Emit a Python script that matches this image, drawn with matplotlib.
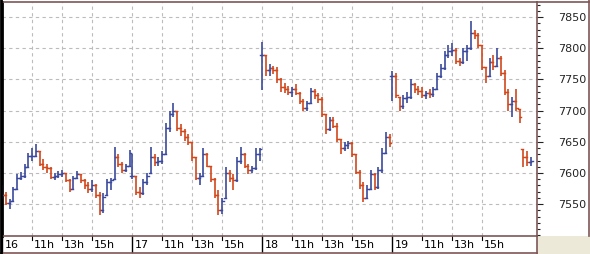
import matplotlib
matplotlib.use("Agg")
import matplotlib.pyplot as plt
from matplotlib.lines import Line2D
from matplotlib.patches import Rectangle
import matplotlib.transforms as mtransforms

# ---- data (15-minute bars) ----
day_labels = ["16", "17", "18", "19"]
hour_labels = ["11h", "13h", "15h"]
hour_values = [11, 13, 15]

highs_16 = [7580, 7570, 7558, 7578, 7598, 7602, 7615, 7632, 7640, 7646, 7635, 7622, 7615, 7610, 7600, 7603, 7605, 7600,
            7590, 7595, 7603, 7598, 7590, 7585, 7588, 7582, 7570, 7568, 7590, 7592, 7641, 7630, 7618, 7615, 7637]
lows_16 = [7558, 7548, 7543, 7555, 7575, 7588, 7592, 7608, 7620, 7625, 7612, 7605, 7600, 7590, 7588, 7592, 7594, 7585,
           7570, 7575, 7590, 7584, 7575, 7568, 7570, 7560, 7532, 7536, 7565, 7572, 7590, 7610, 7600, 7602, 7610]
closes_16 = [7565, 7552, 7555, 7575, 7592, 7596, 7610, 7628, 7628, 7635, 7615, 7610, 7608, 7593, 7596, 7598, 7600, 7588,
             7575, 7592, 7598, 7588, 7580, 7574, 7580, 7565, 7540, 7562, 7585, 7588, 7625, 7615, 7605, 7612, 7632]

highs_17 = [7630, 7595, 7578, 7590, 7600, 7641, 7630, 7625, 7635, 7680, 7700, 7712, 7700, 7678, 7670, 7662, 7650, 7625,
            7600, 7640, 7632, 7612, 7592, 7572, 7560, 7610, 7605, 7598, 7625, 7641, 7632, 7615, 7612, 7640, 7640]
lows_17 = [7590, 7565, 7560, 7565, 7580, 7600, 7612, 7612, 7615, 7630, 7665, 7690, 7668, 7660, 7652, 7645, 7620, 7588,
           7580, 7595, 7610, 7585, 7560, 7532, 7535, 7560, 7585, 7572, 7585, 7615, 7608, 7598, 7600, 7605, 7620]
closes_17 = [7595, 7570, 7568, 7585, 7595, 7625, 7618, 7620, 7630, 7672, 7695, 7700, 7672, 7668, 7658, 7650, 7625, 7592,
             7595, 7630, 7612, 7590, 7565, 7540, 7555, 7600, 7592, 7588, 7620, 7630, 7612, 7605, 7608, 7630, 7638]

highs_18 = [7810, 7790, 7775, 7772, 7770, 7752, 7745, 7740, 7738, 7742, 7730, 7718, 7715, 7737, 7735, 7728, 7722, 7695,
            7690, 7690, 7680, 7655, 7650, 7652, 7650, 7630, 7605, 7585, 7580, 7605, 7600, 7610, 7640, 7665, 7662]
lows_18 = [7733, 7755, 7755, 7758, 7745, 7730, 7728, 7725, 7722, 7725, 7710, 7700, 7700, 7710, 7718, 7712, 7690, 7663,
           7668, 7672, 7650, 7630, 7635, 7638, 7625, 7598, 7575, 7553, 7558, 7572, 7572, 7575, 7600, 7630, 7642]
closes_18 = [7790, 7765, 7768, 7765, 7750, 7738, 7735, 7730, 7735, 7728, 7715, 7705, 7712, 7732, 7725, 7718, 7695, 7670,
             7685, 7676, 7655, 7640, 7645, 7648, 7630, 7602, 7580, 7560, 7575, 7598, 7578, 7605, 7632, 7658, 7648]

highs_19 = [7763, 7760, 7722, 7725, 7730, 7750, 7745, 7740, 7738, 7732, 7735, 7738, 7760, 7775, 7795, 7805, 7808, 7800,
            7785, 7800, 7805, 7843, 7830, 7825, 7805, 7770, 7785, 7790, 7800, 7788, 7765, 7735, 7722, 7735, 7702,
            7638, 7635, 7625]
lows_19 = [7715, 7720, 7700, 7703, 7712, 7718, 7728, 7725, 7720, 7718, 7720, 7722, 7735, 7752, 7765, 7785, 7788, 7775,
           7772, 7775, 7780, 7798, 7815, 7800, 7765, 7745, 7755, 7765, 7770, 7755, 7725, 7700, 7690, 7700, 7680,
           7610, 7612, 7612]
closes_19 = [7755, 7725, 7708, 7720, 7722, 7742, 7735, 7732, 7725, 7728, 7726, 7735, 7755, 7768, 7790, 7795, 7798, 7780,
             7778, 7795, 7800, 7825, 7822, 7805, 7770, 7755, 7778, 7772, 7785, 7760, 7730, 7710, 7715, 7705, 7690,
             7625, 7618, 7620]

days_high = [highs_16, highs_17, highs_18, highs_19]
days_low = [lows_16, lows_17, lows_18, lows_19]
days_close = [closes_16, closes_17, closes_18, closes_19]

y_ticks = [7550, 7600, 7650, 7700, 7750, 7800, 7850]

# ---- layout ----
W, H = 590, 254
DAY_MIN = 520          # minutes per day slot on the axis
BAR_MIN = 15
BORDER = "#7d5656"
BLUE = "#3b4a9c"
RED = "#d2481c"
GRID = "#bcbcbc"

fig = plt.figure(figsize=(W / 100, H / 100), dpi=100, facecolor="white")
ax = fig.add_axes([2 / W, 18 / H, 535 / W, 234.5 / H])
ax.set_facecolor("white")
ax.set_xlim(0, 2140)
ax.set_ylim(7499, 7875)

# grid
for y in y_ticks:
    ax.axhline(y, color=GRID, lw=0.8, ls=(0, (3, 3)), zorder=1)
for d in range(4):
    for h in [9] + hour_values:
        x = d * DAY_MIN + (h - 9) * 60
        ax.axvline(x, color=GRID, lw=0.8, ls=(0, (3, 3)), zorder=1)

# OHLC bars
px = 2140 / 535.0  # minutes per pixel
for d in range(4):
    hs, ls_, cs = days_high[d], days_low[d], days_close[d]
    prev = cs[0]
    for i in range(len(hs)):
        x = d * DAY_MIN + i * BAR_MIN
        o = min(max(prev, ls_[i]), hs[i])
        c = cs[i]
        col = BLUE if c >= o else RED
        ax.plot([x, x], [ls_[i], hs[i]], color=col, lw=1.2, solid_capstyle="butt", zorder=3)
        ax.plot([x - 1.8 * px, x], [o, o], color=col, lw=1.0, zorder=3)
        ax.plot([x, x + 1.8 * px], [c, c], color=col, lw=1.0, zorder=3)
        prev = c

# y axis on the right
ax.yaxis.tick_right()
ax.set_yticks(y_ticks)
ax.set_yticks(range(7500, 7871, 10), minor=True)
ax.tick_params(axis="y", which="major", length=4.5, width=0.8, color="#222222", pad=11,
               labelsize=8, labelcolor="#222222")
ax.tick_params(axis="y", which="minor", length=2.2, width=0.8, color="#222222")

# x axis: day separators and hour ticks, labels drawn as text
ax.set_xticks([])
trans = mtransforms.blended_transform_factory(ax.transData, ax.transAxes)
ah = 234.5
for d in range(4):
    x0 = d * DAY_MIN
    ax.add_line(Line2D([x0, x0], [0, -16 / ah], transform=trans, color="black", lw=1.0, clip_on=False))
    ax.text(x0, -9 / ah, day_labels[d], transform=trans + mtransforms.ScaledTranslation(3 / 100, 0, fig.dpi_scale_trans),
            ha="left", va="center", fontsize=8, color="black")
    for h, lab in zip(hour_values, hour_labels):
        x = x0 + (h - 9) * 60
        ax.add_line(Line2D([x, x], [0, -4 / ah], transform=trans, color="black", lw=0.8, clip_on=False))
        ax.text(x, -9 / ah, lab, transform=trans + mtransforms.ScaledTranslation(2 / 100, 0, fig.dpi_scale_trans),
                ha="left", va="center", fontsize=8, color="black")

for s in ax.spines.values():
    s.set_color(BORDER)
    s.set_linewidth(1.2)
ax.spines["left"].set_color("black")
ax.spines["left"].set_linewidth(2)

# figure-level frame pieces
fig.add_artist(Rectangle((537 / W, 0), 53 / W, 18 / H, transform=fig.transFigure, facecolor="#ece9d8",
                         edgecolor="none", zorder=0))
fig.add_artist(Line2D([0, 537 / W], [1.5 / H, 1.5 / H], transform=fig.transFigure, color=BORDER, lw=1.2))
fig.add_artist(Line2D([537 / W, 537 / W], [0, 18 / H], transform=fig.transFigure, color=BORDER, lw=1.2))
fig.add_artist(Line2D([1 / W, 1 / W], [0, 1], transform=fig.transFigure, color="black", lw=2))
fig.add_artist(Line2D([588.5 / W, 588.5 / W], [18 / H, 1], transform=fig.transFigure, color=BORDER, lw=1.2))
fig.add_artist(Line2D([537 / W, 589 / W], [1 - 1.5 / H, 1 - 1.5 / H], transform=fig.transFigure, color=BORDER, lw=1.2))

fig.savefig("out.png", dpi=100, facecolor="white")
